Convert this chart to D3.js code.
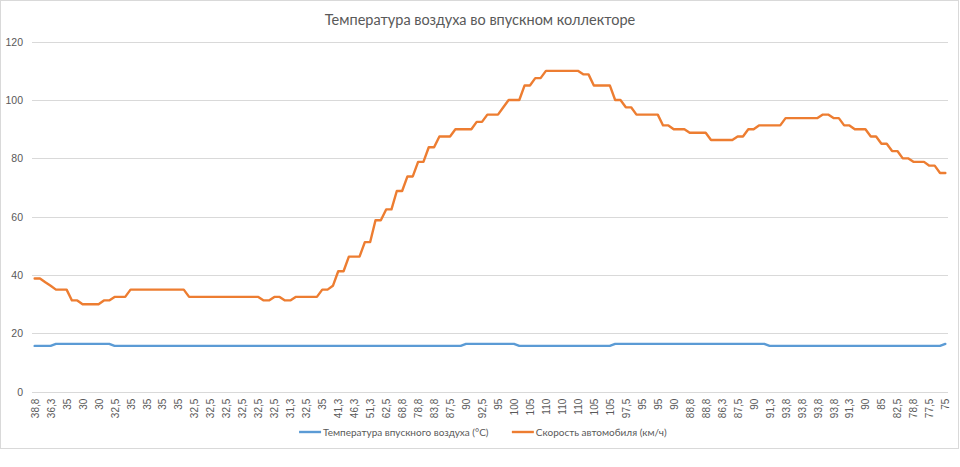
<!DOCTYPE html>
<html>
<head>
<meta charset="utf-8">
<script src="https://cdn.jsdelivr.net/npm/d3@7"></script>
<style>
  body { margin: 0; background: #fff; }
  svg { display: block; font-family: Lato, 'Open Sans', sans-serif; }
</style>
</head>
<body>
<svg id="chart" width="960" height="467"></svg>
<script>
// Chart data
const chartTitle = 'Температура воздуха во впускном коллекторе';
const seriesNames = ['Температура впускного воздуха (°C)', 'Скорость автомобиля (км/ч)'];
const seriesColors = ['#5b9bd5', '#ed7d31'];
const yTicks = [0, 20, 40, 60, 80, 100, 120];

// Vehicle speed, km/h (one value per log row)
const speed = [
  38.8, 38.8, 37.5, 36.3, 35, 35, 35, 31.3, 31.3, 30, 30, 30,
  30, 31.3, 31.3, 32.5, 32.5, 32.5, 35, 35, 35, 35, 35, 35,
  35, 35, 35, 35, 35, 32.5, 32.5, 32.5, 32.5, 32.5, 32.5, 32.5,
  32.5, 32.5, 32.5, 32.5, 32.5, 32.5, 32.5, 31.3, 31.3, 32.5, 32.5, 31.3,
  31.3, 32.5, 32.5, 32.5, 32.5, 32.5, 35, 35, 36.3, 41.3, 41.3, 46.3,
  46.3, 46.3, 51.3, 51.3, 58.8, 58.8, 62.5, 62.5, 68.8, 68.8, 73.8, 73.8,
  78.8, 78.8, 83.8, 83.8, 87.5, 87.5, 87.5, 90, 90, 90, 90, 92.5,
  92.5, 95, 95, 95, 97.5, 100, 100, 100, 105, 105, 107.5, 107.5,
  110, 110, 110, 110, 110, 110, 110, 108.8, 108.8, 105, 105, 105,
  105, 100, 100, 97.5, 97.5, 95, 95, 95, 95, 95, 91.3, 91.3,
  90, 90, 90, 88.8, 88.8, 88.8, 88.8, 86.3, 86.3, 86.3, 86.3, 86.3,
  87.5, 87.5, 90, 90, 91.3, 91.3, 91.3, 91.3, 91.3, 93.8, 93.8, 93.8,
  93.8, 93.8, 93.8, 93.8, 95, 95, 93.8, 93.8, 91.3, 91.3, 90, 90,
  90, 87.5, 87.5, 85, 85, 82.5, 82.5, 80, 80, 78.8, 78.8, 78.8,
  77.5, 77.5, 75, 75
];

// Intake air temperature, °C
const intakeTemp = [
  15.7, 15.7, 15.7, 15.7, 16.4, 16.4, 16.4, 16.4, 16.4, 16.4, 16.4, 16.4,
  16.4, 16.4, 16.4, 15.7, 15.7, 15.7, 15.7, 15.7, 15.7, 15.7, 15.7, 15.7,
  15.7, 15.7, 15.7, 15.7, 15.7, 15.7, 15.7, 15.7, 15.7, 15.7, 15.7, 15.7,
  15.7, 15.7, 15.7, 15.7, 15.7, 15.7, 15.7, 15.7, 15.7, 15.7, 15.7, 15.7,
  15.7, 15.7, 15.7, 15.7, 15.7, 15.7, 15.7, 15.7, 15.7, 15.7, 15.7, 15.7,
  15.7, 15.7, 15.7, 15.7, 15.7, 15.7, 15.7, 15.7, 15.7, 15.7, 15.7, 15.7,
  15.7, 15.7, 15.7, 15.7, 15.7, 15.7, 15.7, 15.7, 15.7, 16.4, 16.4, 16.4,
  16.4, 16.4, 16.4, 16.4, 16.4, 16.4, 16.4, 15.7, 15.7, 15.7, 15.7, 15.7,
  15.7, 15.7, 15.7, 15.7, 15.7, 15.7, 15.7, 15.7, 15.7, 15.7, 15.7, 15.7,
  15.7, 16.4, 16.4, 16.4, 16.4, 16.4, 16.4, 16.4, 16.4, 16.4, 16.4, 16.4,
  16.4, 16.4, 16.4, 16.4, 16.4, 16.4, 16.4, 16.4, 16.4, 16.4, 16.4, 16.4,
  16.4, 16.4, 16.4, 16.4, 16.4, 16.4, 15.7, 15.7, 15.7, 15.7, 15.7, 15.7,
  15.7, 15.7, 15.7, 15.7, 15.7, 15.7, 15.7, 15.7, 15.7, 15.7, 15.7, 15.7,
  15.7, 15.7, 15.7, 15.7, 15.7, 15.7, 15.7, 15.7, 15.7, 15.7, 15.7, 15.7,
  15.7, 15.7, 15.7, 16.4
];

// The category axis is the speed column itself, written with a decimal comma
const categories = speed.map(v => String(v).replace('.', ','));
const labelEvery = 3;

const width = 960;
const textColor = '#595959';
const gridColor = '#d9d9d9';
const plot = { left: 32, right: 948, top: 41.7, bottom: 391.7 };

const svg = d3.select('#chart');

// chart frame
svg.append('rect')
  .attr('x', 0.5).attr('y', 0.5)
  .attr('width', 958).attr('height', 448)
  .attr('fill', '#fff')
  .attr('stroke', gridColor);

svg.append('text')
  .attr('x', width / 2)
  .attr('y', 24.5)
  .attr('text-anchor', 'middle')
  .attr('fill', textColor)
  .attr('font-size', 14.5)
  .text(chartTitle);

const x = d3.scaleBand()
  .domain(d3.range(categories.length))
  .range([plot.left, plot.right]);

const y = d3.scaleLinear()
  .domain([0, 120])
  .range([plot.bottom, plot.top]);

// value axis with gridlines
const yAxis = svg.append('g')
  .attr('transform', `translate(${plot.left},0)`)
  .call(d3.axisLeft(y).tickValues(yTicks).tickSize(-(plot.right - plot.left)).tickPadding(9));

yAxis.select('.domain').remove();
yAxis.selectAll('line').attr('stroke', gridColor).attr('shape-rendering', 'crispEdges');
yAxis.selectAll('text').attr('fill', textColor).attr('font-size', 10.5);

// category axis, every third label, rotated
const xAxis = svg.append('g')
  .attr('transform', `translate(0,${plot.bottom})`)
  .call(d3.axisBottom(x)
    .tickValues(x.domain().filter(i => i % labelEvery === 0))
    .tickFormat(i => categories[i])
    .tickSize(0));

xAxis.select('.domain').remove();
xAxis.selectAll('text')
  .attr('transform', 'rotate(-90)')
  .attr('text-anchor', 'end')
  .attr('x', -7)
  .attr('y', 0.5)
  .attr('dy', '0.35em')
  .attr('fill', textColor)
  .attr('font-size', 10);

const line = d3.line()
  .x((d, i) => x(i) + x.bandwidth() / 2)
  .y(d => y(d));

[intakeTemp, speed].forEach((values, k) => {
  svg.append('path')
    .datum(values)
    .attr('fill', 'none')
    .attr('stroke', seriesColors[k])
    .attr('stroke-width', 2.4)
    .attr('stroke-linejoin', 'round')
    .attr('stroke-linecap', 'round')
    .attr('d', line);
});

// legend, centred under the plot
const legend = svg.append('g').attr('transform', 'translate(0,432)');
const items = legend.selectAll('g')
  .data(seriesNames)
  .join('g');

items.append('line')
  .attr('x1', 0).attr('x2', 22)
  .attr('stroke', (d, k) => seriesColors[k])
  .attr('stroke-width', 2.4);

items.append('text')
  .attr('x', 24)
  .attr('dy', '0.35em')
  .attr('fill', textColor)
  .attr('font-size', 10)
  .text(d => d);

const itemWidths = items.nodes().map(n => n.getBBox().width);
const gap = 23;
const total = d3.sum(itemWidths) + gap * (itemWidths.length - 1);
let cursor = 483 - total / 2;
items.attr('transform', (d, k) => {
  const pos = cursor;
  cursor += itemWidths[k] + gap;
  return `translate(${pos},0)`;
});
</script>
</body>
</html>
